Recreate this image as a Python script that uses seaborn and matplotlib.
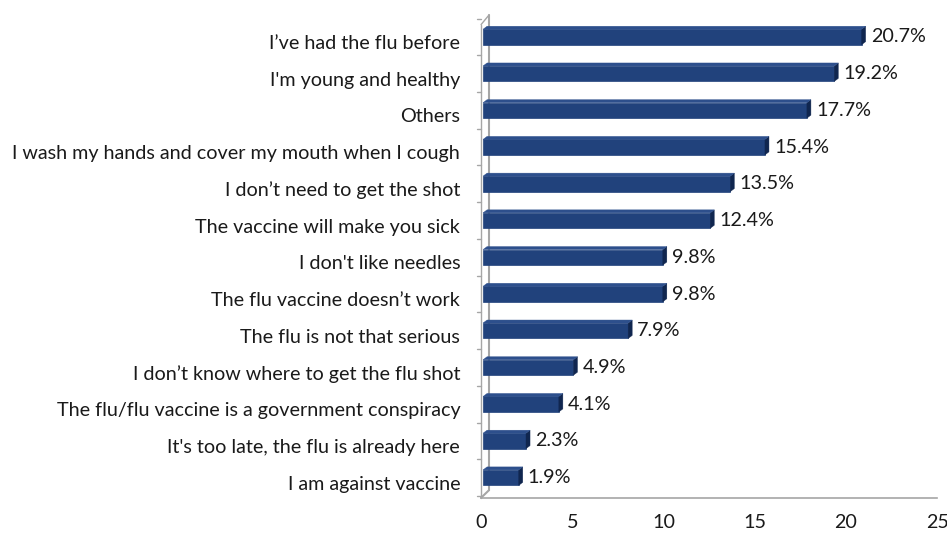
import numpy as np
import pandas as pd
import matplotlib.pyplot as plt
import matplotlib.transforms as mtransforms
import seaborn as sns
from matplotlib.patches import Polygon

reasons = [
    "I\u2019ve had the flu before",
    "I'm young and healthy",
    "Others",
    "I wash my hands and cover my mouth when I cough",
    "I don\u2019t need to get the shot",
    "The vaccine will make you sick",
    "I don't like needles",
    "The flu vaccine doesn\u2019t work",
    "The flu is not that serious",
    "I don\u2019t know where to get the flu shot",
    "The flu/flu vaccine is a government conspiracy",
    "It's too late, the flu is already here",
    "I am against vaccine",
]
percent = [20.7, 19.2, 17.7, 15.4, 13.5, 12.4, 9.8, 9.8, 7.9, 4.9, 4.1, 2.3, 1.9]
x_ticks = [0, 5, 10, 15, 20, 25]

df = pd.DataFrame({"reason": reasons, "percent": percent})

sns.set_style("white")
plt.rcParams['font.family'] = ['Lato', 'DejaVu Sans']

fig = plt.figure(figsize=(9.47, 5.33), dpi=100)
ax = fig.add_axes([0.508, 0.066, 0.4815, 0.906])

front = "#21427c"
side = "#10264f"
top = "#2d4f8c"
grey = "#a6a6a6"
txt = "#1a1a1a"
fs = 14.2

sns.barplot(data=df, x="percent", y="reason", orient="h", color=front,
            width=0.42, saturation=1, edgecolor=front, linewidth=0.5, ax=ax, zorder=3)

# pixel sizes in data units, for the fake 3D faces
ylo, yhi = 12.55, -0.6
px_x = 25 / (0.4815 * 947)
px_y = (ylo - yhi) / (0.906 * 533)
dx, dy = 4 * px_x, 3 * px_y
shift = 3 * px_x
for p in ax.patches:
    x0 = p.get_x() + 2 * px_x
    x1 = p.get_x() + p.get_width() + shift
    yt = p.get_y()
    yb = p.get_y() + p.get_height()
    p.set_x(x0)
    p.set_width(x1 - x0)
    ax.add_patch(Polygon([[x1, yt], [x1 + dx, yt - dy], [x1 + dx, yb - dy], [x1, yb]],
                         closed=True, facecolor=side, edgecolor=side, lw=0.3, zorder=3))
    ax.add_patch(Polygon([[x0, yt], [x0 + dx, yt - dy], [x1 + dx, yt - dy], [x1, yt]],
                         closed=True, facecolor=top, edgecolor=top, lw=0.3, zorder=3))

for i, v in enumerate(percent):
    ax.text(v + shift + 9 * px_x, i, f"{v}%", va="center", ha="left", fontsize=fs, color=txt)

ax.set_xlim(0, 25)
ax.set_ylim(ylo, yhi)
ax.set_xticks(x_ticks)
ax.set_xticklabels([str(t) for t in x_ticks], fontsize=fs, color=txt)
ax.tick_params(axis="y", length=0, pad=15, labelsize=fs, labelcolor=txt)
ax.tick_params(axis="x", direction="out", length=5, width=1, color=grey, pad=7)
ax.set_xlabel("")
ax.set_ylabel("")

# category labels sit a little below the bar centres in the original
down = mtransforms.ScaledTranslation(0, -5 / 100, fig.dpi_scale_trans)
for lab in ax.get_yticklabels():
    lab.set_transform(lab.get_transform() + down)

for s in ax.spines.values():
    s.set_visible(False)
ax.spines["bottom"].set_visible(True)
ax.spines["bottom"].set_color(grey)
ax.spines["bottom"].set_linewidth(1.2)

# back wall line and ticks between categories
tr = ax.transAxes
wx = 8 * px_x / 25
ax.plot([wx, wx], [0.016, 1.0], color=grey, lw=1.5, transform=tr, clip_on=False, zorder=1)
ax.plot([0, wx], [0, 0.016], color=grey, lw=1.5, transform=tr, clip_on=False, zorder=1)
ax.plot([0, 0], [0, 0.98], color=grey, lw=1.0, transform=tr, clip_on=False, zorder=1)
ax.plot([0, wx], [0.98, 1.0], color=grey, lw=1.0, transform=tr, clip_on=False, zorder=1)
for b in np.arange(-0.5, len(reasons), 1.0):
    ax.plot([-4 * px_x, 0], [b, b], color=grey, lw=1.0, clip_on=False, zorder=1)

fig.savefig("out.png", dpi=100)
